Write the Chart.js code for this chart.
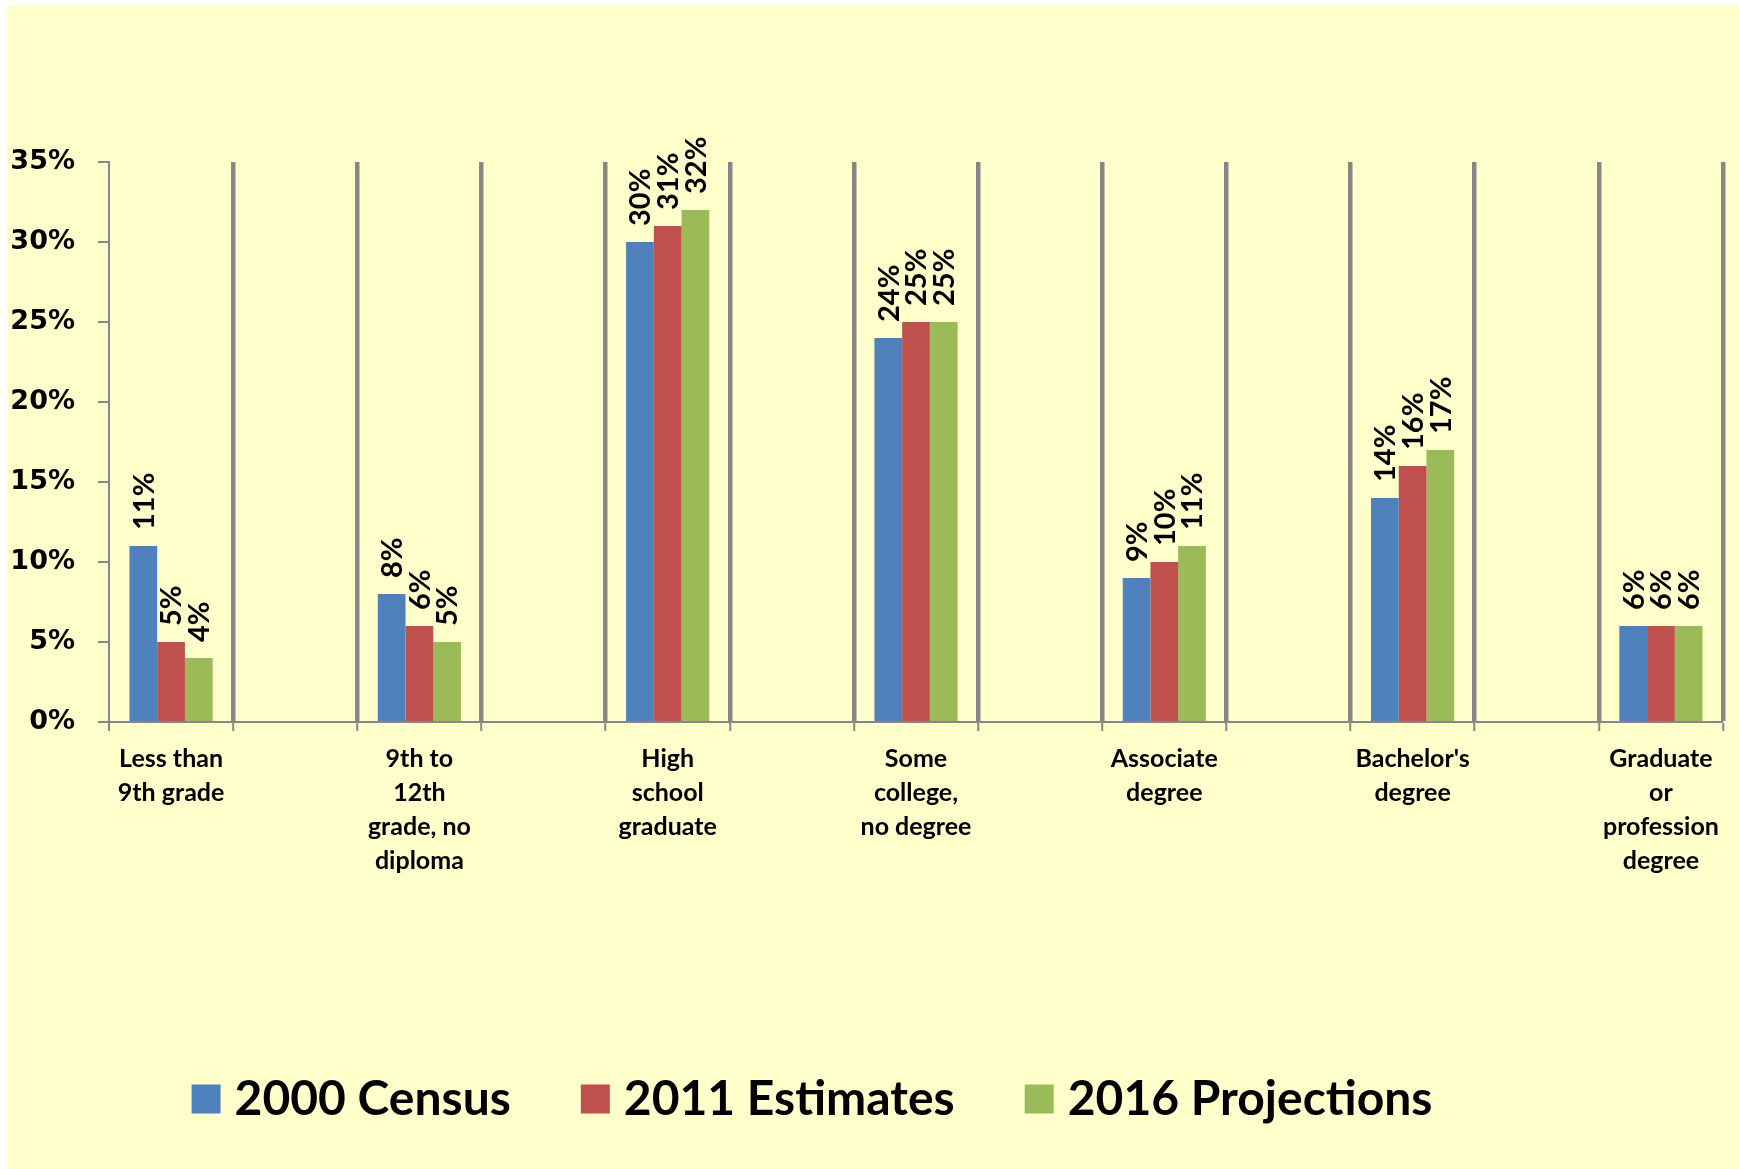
<!DOCTYPE html>
<html>
<head>
<meta charset="utf-8">
<script src="https://cdn.jsdelivr.net/npm/chart.js@4.4.1/dist/chart.umd.min.js"></script>
<style>
  html, body { margin: 0; padding: 0; background: #ffffff; overflow: hidden; }
  #wrap { width: 1739px; height: 1169px; position: relative; }
  canvas { display: block; }
</style>
</head>
<body>
<div id="wrap"><canvas id="c" width="1739" height="1169"></canvas></div>
<script>
// ---- data ----
const categories = [
  ["Less than", "9th grade"],
  ["9th to", "12th", "grade, no", "diploma"],
  ["High", "school", "graduate"],
  ["Some", "college,", "no degree"],
  ["Associate", "degree"],
  ["Bachelor's", "degree"],
  ["Graduate", "or", "profession", "degree"]
];
const seriesNames = ["2000 Census", "2011 Estimates", "2016 Projections"];
const census2000 = [11, 8, 30, 24, 9, 14, 6];
const estimates2011 = [5, 6, 31, 25, 10, 16, 6];
const projections2016 = [4, 5, 32, 25, 11, 17, 6];
const yTickValues = [0, 5, 10, 15, 20, 25, 30, 35];
const seriesColors = ["#4F81BD", "#C0504D", "#9BBB59"];

// the original axis has an empty slot between every pair of categories
function spread(arr, blank) {
  const out = [];
  arr.forEach((v, i) => { if (i > 0) out.push(blank); out.push(v); });
  return out;
}
const slotLabels = spread(categories, "");
const seriesValues = [census2000, estimates2011, projections2016];

const GRID = "#878787";
const LABEL_FONT = "Lato, 'Open Sans', sans-serif";

const backgroundPlugin = {
  id: "bg",
  beforeDraw(chart) {
    const c = chart.ctx;
    c.save();
    c.fillStyle = "#ffffff";
    c.fillRect(0, 0, chart.width, chart.height);
    c.fillStyle = "#FFFFCC";
    c.fillRect(7, 5, chart.width - 7, chart.height - 5);
    c.restore();
  }
};

const valueLabelPlugin = {
  id: "valueLabels",
  afterDatasetsDraw(chart) {
    const c = chart.ctx;
    c.save();
    c.fillStyle = "#000";
    c.font = "bold 29px " + LABEL_FONT;
    c.textAlign = "left";
    c.textBaseline = "middle";
    chart.data.datasets.forEach((ds, di) => {
      const meta = chart.getDatasetMeta(di);
      meta.data.forEach((el, i) => {
        const v = ds.data[i];
        if (v === null || v === undefined) return;
        c.save();
        c.translate(el.x + 1, el.y - 16);
        c.rotate(-Math.PI / 2);
        c.fillText(v + "%", 0, 0);
        c.restore();
      });
    });
    c.restore();
  }
};

const legendPlugin = {
  id: "customLegend",
  afterDraw(chart) {
    const c = chart.ctx;
    c.save();
    c.font = "bold 48px " + LABEL_FONT;
    const box = 29, boxGap = 14, itemGap = 70;
    const widths = seriesNames.map(n => c.measureText(n).width);
    let total = 0;
    widths.forEach((w, i) => { total += box + boxGap + w + (i > 0 ? itemGap : 0); });
    let x = 812 - total / 2;
    const yc = 1100;
    c.textBaseline = "middle";
    c.textAlign = "left";
    seriesNames.forEach((n, i) => {
      c.fillStyle = seriesColors[i];
      c.fillRect(x, yc - box / 2 - 1, box, box);
      c.fillStyle = "#000";
      c.fillText(n, x + box + boxGap, yc);
      x += box + boxGap + widths[i] + itemGap;
    });
    c.restore();
  }
};

new Chart(document.getElementById("c"), {
  type: "bar",
  data: {
    labels: slotLabels,
    datasets: seriesNames.map((name, i) => ({
      label: name,
      data: spread(seriesValues[i], null),
      backgroundColor: seriesColors[i],
      borderWidth: 0,
      categoryPercentage: 0.67,
      barPercentage: 1.0
    }))
  },
  options: {
    responsive: false,
    animation: false,
    devicePixelRatio: 1,
    layout: { padding: { top: 162, right: 16, left: 0, bottom: 0 } },
    plugins: {
      legend: { display: false },
      tooltip: { enabled: false },
      title: { display: false }
    },
    scales: {
      x: {
        offset: true,
        grid: {
          offset: true,
          display: true,
          drawOnChartArea: true,
          drawTicks: true,
          color: GRID,
          lineWidth: (ctx) => (ctx.index === 0 ? 0 : 4.5),
          tickLength: 9,
          tickWidth: 2,
          tickColor: GRID
        },
        border: { display: true, color: GRID, width: 2 },
        ticks: {
          autoSkip: false,
          maxRotation: 0,
          minRotation: 0,
          color: "#000",
          padding: 11,
          font: { family: LABEL_FONT, size: 25, weight: "bold", lineHeight: 1.36 }
        },
        afterFit(scale) { scale.height = 1169 - 722; }
      },
      y: {
        min: 0,
        max: 35,
        afterBuildTicks(scale) { scale.ticks = yTickValues.map(v => ({ value: v })); },
        grid: {
          drawOnChartArea: false,
          drawTicks: true,
          tickLength: 11,
          color: GRID,
          lineWidth: 2
        },
        border: { display: true, color: GRID, width: 2 },
        ticks: {
          color: "#000",
          padding: 23,
          font: { family: "'DejaVu Sans', Verdana, sans-serif", size: 27, weight: "bold" },
          callback: (v) => v + "%"
        },
        afterFit(scale) { scale.width = 109; }
      }
    }
  },
  plugins: [backgroundPlugin, valueLabelPlugin, legendPlugin]
});
</script>
</body>
</html>
